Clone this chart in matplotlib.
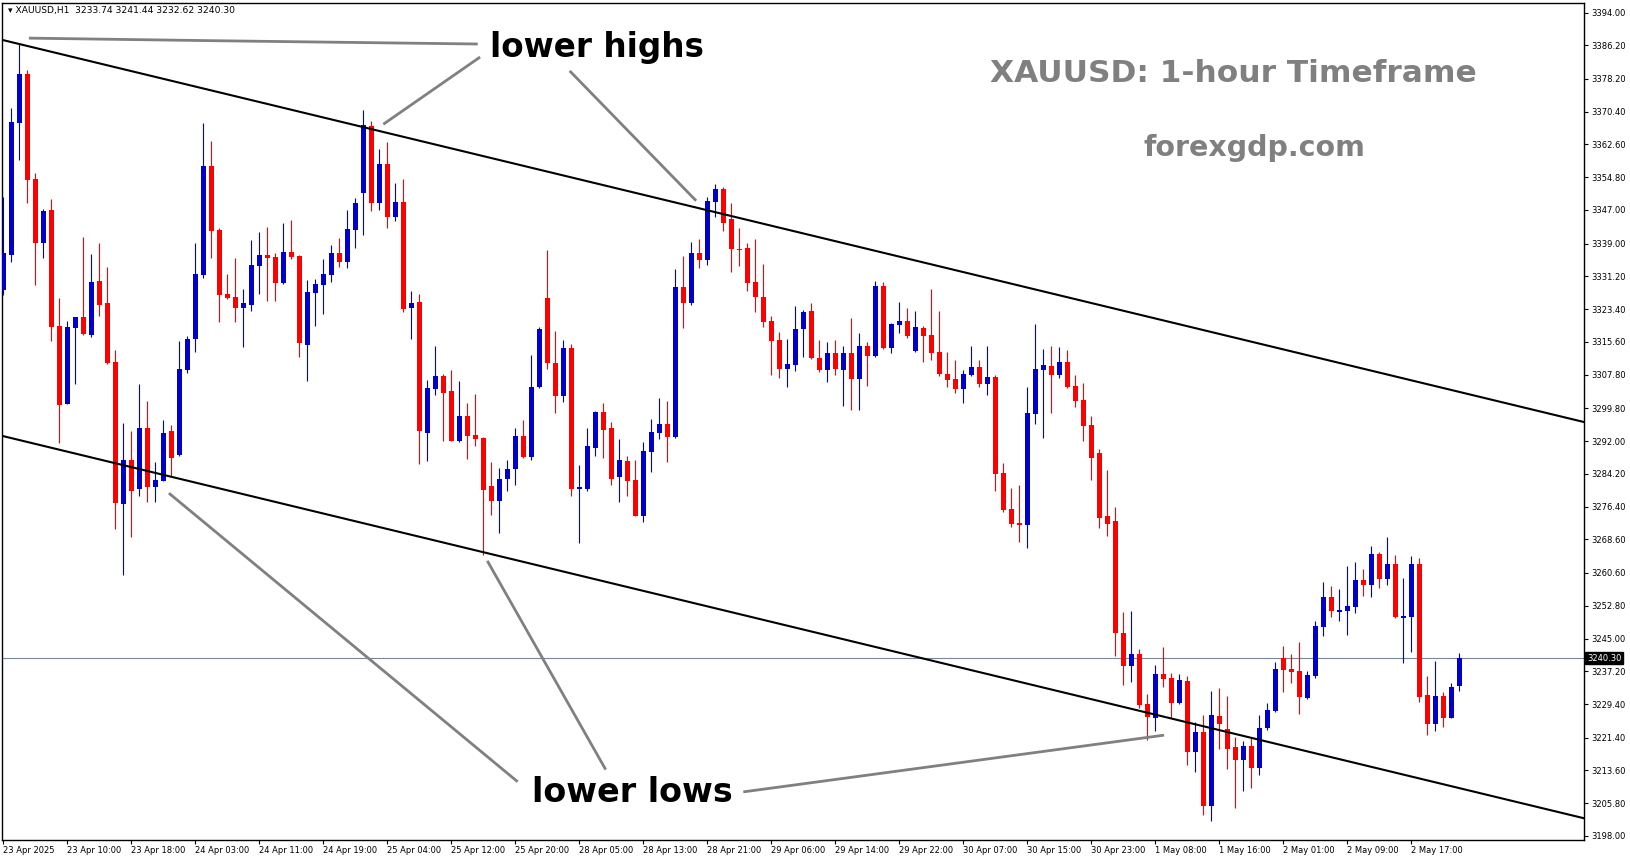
import matplotlib
matplotlib.use("Agg")
import matplotlib.pyplot as plt
import matplotlib.transforms as mtransforms
import numpy as np

# XAUUSD H1, one bar per hour: 23 Apr 02:00 ... 2 May 23:00 (23 bars a day)
opens = [3328.0, 3336.3, 3367.8, 3379.4, 3354.4, 3339.1, 3347.0, 3319.5, 3300.8, 3319.0,
         3321.6, 3317.3, 3330.1, 3324.8, 3310.7, 3276.9, 3287.5, 3280.7, 3295.2, 3281.1,
         3282.6, 3294.4, 3288.8, 3308.9, 3316.3, 3331.5, 3357.5, 3342.2, 3326.9, 3326.2,
         3323.7, 3324.4, 3333.7, 3336.3, 3335.9, 3329.7, 3337.0, 3336.0, 3314.9, 3327.3,
         3329.2, 3331.5, 3336.8, 3334.7, 3342.3, 3351.1, 3367.0, 3348.7, 3357.9, 3345.4,
         3348.9, 3323.6, 3325.1, 3294.0, 3304.3, 3307.5, 3303.9, 3291.9, 3297.9, 3293.4,
         3292.7, 3281.3, 3277.8, 3283.0, 3285.3, 3293.2, 3288.3, 3304.8, 3326.0, 3310.5,
         3302.7, 3314.1, 3280.7, 3280.7, 3290.4, 3299.0, 3295.2, 3283.5, 3287.2, 3282.7,
         3274.2, 3289.5, 3294.0, 3296.1, 3293.0, 3328.7, 3324.9, 3336.7, 3335.2, 3349.0,
         3352.1, 3344.8, 3337.7, 3338.0, 3329.9, 3326.4, 3320.6, 3316.1, 3309.2, 3310.2,
         3318.7, 3323.0, 3311.8, 3308.9, 3313.0, 3308.9, 3313.0, 3306.8, 3314.6, 3312.2,
         3328.9, 3314.2, 3319.6, 3320.6, 3313.5, 3318.9, 3317.2, 3313.2, 3308.0, 3306.8,
         3304.4, 3307.7, 3309.6, 3305.6, 3307.2, 3284.4, 3275.8, 3272.5, 3272.1, 3298.5,
         3309.0, 3309.9, 3307.8, 3310.8, 3305.1, 3301.8, 3295.8, 3289.2, 3274.2, 3273.0,
         3246.3, 3238.5, 3241.3, 3229.4, 3226.2, 3236.6, 3235.6, 3229.7, 3234.9, 3218.1,
         3222.8, 3205.2, 3226.6, 3223.5, 3219.2, 3216.1, 3219.4, 3214.3, 3223.6, 3227.8,
         3240.4, 3237.8, 3237.3, 3230.9, 3236.1, 3247.7, 3254.9, 3251.4, 3251.6, 3252.5,
         3259.0, 3257.7, 3265.1, 3259.2, 3262.7, 3249.9, 3250.1, 3262.7, 3231.6, 3224.7,
         3231.3, 3226.2, 3233.74]
highs = [3350.2, 3371.3, 3386.7, 3380.2, 3355.7, 3347.2, 3349.6, 3326.1, 3320.6, 3321.6,
         3340.6, 3336.5, 3339.2, 3333.5, 3313.7, 3296.4, 3294.5, 3305.6, 3301.5, 3286.9,
         3297.0, 3295.8, 3315.8, 3317.0, 3339.2, 3367.6, 3363.4, 3342.8, 3331.8, 3335.5,
         3328.1, 3339.9, 3341.7, 3343.0, 3336.8, 3343.8, 3344.6, 3336.3, 3330.3, 3330.5,
         3335.3, 3338.7, 3340.3, 3347.0, 3349.8, 3370.8, 3368.2, 3361.5, 3363.2, 3353.5,
         3354.4, 3327.7, 3327.1, 3306.5, 3314.6, 3307.9, 3308.9, 3306.3, 3301.1, 3303.2,
         3293.0, 3287.0, 3285.6, 3287.5, 3295.0, 3297.0, 3312.5, 3319.2, 3337.5, 3318.2,
         3316.0, 3315.1, 3286.3, 3295.2, 3299.1, 3301.0, 3296.6, 3292.5, 3288.4, 3287.5,
         3291.7, 3297.2, 3302.2, 3301.5, 3332.9, 3336.0, 3339.3, 3340.0, 3350.0, 3353.1,
         3352.4, 3348.6, 3342.6, 3339.1, 3340.0, 3334.1, 3321.8, 3318.0, 3316.4, 3324.1,
         3323.2, 3324.9, 3316.1, 3315.6, 3316.1, 3314.6, 3321.3, 3317.7, 3315.6, 3330.0,
         3329.8, 3320.1, 3325.1, 3323.7, 3323.0, 3319.4, 3328.2, 3323.0, 3313.2, 3311.3,
         3308.9, 3314.6, 3311.3, 3314.6, 3307.7, 3286.8, 3280.9, 3281.5, 3304.9, 3319.9,
         3313.9, 3314.6, 3314.4, 3313.7, 3307.7, 3305.8, 3298.0, 3290.1, 3285.1, 3276.3,
         3251.3, 3251.5, 3242.5, 3231.8, 3238.7, 3243.0, 3236.8, 3236.6, 3236.1, 3225.1,
         3226.8, 3232.5, 3233.2, 3231.3, 3221.6, 3220.6, 3221.3, 3226.8, 3229.7, 3239.4,
         3243.2, 3241.3, 3244.2, 3237.3, 3249.2, 3258.5, 3257.5, 3256.8, 3262.3, 3263.2,
         3261.5, 3267.0, 3265.6, 3269.2, 3264.9, 3259.4, 3264.6, 3264.2, 3236.1, 3239.6,
         3232.3, 3234.4, 3241.44]
lows = [3326.8, 3334.7, 3358.9, 3348.6, 3329.1, 3335.6, 3315.9, 3291.6, 3300.8, 3305.6,
        3317.3, 3316.7, 3321.8, 3310.3, 3271.1, 3260.1, 3269.1, 3279.0, 3277.6, 3277.6,
        3282.4, 3283.7, 3288.5, 3308.1, 3313.3, 3330.7, 3335.6, 3320.4, 3325.8, 3320.4,
        3314.5, 3323.0, 3327.0, 3325.3, 3325.3, 3329.4, 3335.3, 3312.1, 3306.4, 3319.5,
        3322.2, 3329.9, 3333.5, 3333.3, 3338.0, 3341.0, 3346.8, 3347.0, 3342.8, 3344.4,
        3322.6, 3316.4, 3286.5, 3287.3, 3303.0, 3291.9, 3291.9, 3291.7, 3287.8, 3290.9,
        3264.9, 3274.4, 3270.0, 3280.2, 3281.6, 3288.0, 3287.6, 3304.6, 3309.1, 3298.6,
        3301.4, 3279.0, 3267.8, 3280.1, 3288.5, 3288.0, 3281.5, 3277.6, 3279.0, 3274.2,
        3272.8, 3284.7, 3292.6, 3286.9, 3292.8, 3319.0, 3324.5, 3333.1, 3334.0, 3345.4,
        3342.0, 3332.3, 3333.7, 3327.6, 3322.8, 3319.2, 3307.7, 3306.9, 3304.9, 3308.7,
        3312.1, 3311.5, 3308.4, 3306.1, 3307.7, 3300.3, 3299.4, 3299.4, 3305.1, 3312.0,
        3313.9, 3313.0, 3317.7, 3316.5, 3313.3, 3310.8, 3311.3, 3307.5, 3304.9, 3303.4,
        3301.1, 3307.5, 3304.9, 3303.0, 3280.2, 3275.0, 3271.6, 3268.0, 3266.6, 3296.1,
        3292.8, 3298.7, 3307.1, 3304.6, 3300.2, 3291.9, 3282.8, 3271.2, 3269.5, 3240.9,
        3234.0, 3234.7, 3228.5, 3220.9, 3223.1, 3233.5, 3226.2, 3229.5, 3215.0, 3213.3,
        3203.0, 3201.6, 3218.6, 3214.0, 3204.7, 3208.6, 3209.5, 3212.6, 3223.3, 3227.6,
        3232.3, 3234.5, 3227.1, 3230.7, 3235.6, 3245.6, 3250.1, 3249.2, 3245.8, 3251.1,
        3255.1, 3254.9, 3257.0, 3257.7, 3249.9, 3239.2, 3241.8, 3229.9, 3222.1, 3223.1,
        3224.0, 3226.0, 3232.62]
closes = [3336.7, 3368.0, 3379.4, 3354.1, 3339.1, 3346.8, 3319.2, 3300.6, 3319.2, 3321.6,
          3317.5, 3329.9, 3324.4, 3310.6, 3277.2, 3287.5, 3280.2, 3295.2, 3281.1, 3282.7,
          3293.8, 3287.9, 3309.1, 3316.3, 3331.8, 3357.5, 3342.1, 3326.8, 3326.1, 3323.7,
          3324.8, 3333.9, 3336.3, 3335.6, 3329.7, 3337.0, 3335.9, 3315.4, 3327.5, 3329.4,
          3331.8, 3336.8, 3334.7, 3342.5, 3348.6, 3367.2, 3348.7, 3357.9, 3345.4, 3348.8,
          3323.5, 3324.8, 3294.5, 3304.6, 3307.5, 3303.5, 3291.9, 3297.9, 3293.3, 3292.6,
          3280.4, 3277.8, 3283.0, 3285.3, 3293.2, 3288.3, 3304.9, 3318.7, 3310.5, 3302.7,
          3314.1, 3280.7, 3281.0, 3290.8, 3299.0, 3294.6, 3283.0, 3287.5, 3282.6, 3274.2,
          3289.6, 3294.1, 3296.1, 3293.0, 3328.7, 3324.9, 3336.7, 3335.2, 3349.1, 3352.1,
          3344.0, 3337.7, 3337.5, 3329.7, 3326.4, 3320.4, 3315.9, 3309.2, 3310.3, 3318.7,
          3322.7, 3311.8, 3308.9, 3313.0, 3309.2, 3313.0, 3306.8, 3314.6, 3312.2, 3328.9,
          3314.2, 3319.9, 3320.6, 3317.0, 3319.1, 3317.0, 3313.0, 3308.0, 3306.5, 3304.4,
          3308.0, 3309.6, 3305.6, 3307.2, 3284.2, 3275.7, 3272.3, 3272.1, 3298.7, 3309.2,
          3310.1, 3307.8, 3310.8, 3304.9, 3301.6, 3295.7, 3288.0, 3273.8, 3272.3, 3246.2,
          3238.5, 3241.3, 3229.2, 3226.4, 3236.6, 3235.4, 3229.7, 3235.1, 3218.1, 3222.8,
          3205.2, 3226.8, 3224.7, 3218.8, 3216.1, 3219.4, 3214.3, 3223.7, 3228.0, 3237.8,
          3237.5, 3237.0, 3231.1, 3236.3, 3248.0, 3254.9, 3251.6, 3251.9, 3252.7, 3259.0,
          3257.7, 3265.1, 3259.2, 3262.7, 3250.1, 3250.3, 3262.7, 3231.1, 3224.7, 3231.3,
          3226.2, 3233.5, 3240.30]

# time axis labels, one every 8 bars
date_labels = ["23 Apr 2025", "23 Apr 10:00", "23 Apr 18:00", "24 Apr 03:00", "24 Apr 11:00",
               "24 Apr 19:00", "25 Apr 04:00", "25 Apr 12:00", "25 Apr 20:00", "28 Apr 05:00",
               "28 Apr 13:00", "28 Apr 21:00", "29 Apr 06:00", "29 Apr 14:00", "29 Apr 22:00",
               "30 Apr 07:00", "30 Apr 15:00", "30 Apr 23:00", "1 May 08:00", "1 May 16:00",
               "2 May 01:00", "2 May 09:00", "2 May 17:00"]
date_step = 8

price_ticks = [3394.00, 3386.20, 3378.20, 3370.40, 3362.60, 3354.80, 3347.00, 3339.00,
               3331.20, 3323.40, 3315.60, 3307.80, 3299.80, 3292.00, 3284.20, 3276.40,
               3268.60, 3260.60, 3252.80, 3245.00, 3237.20, 3229.40, 3221.40, 3213.60,
               3205.80, 3198.00]
bid = 3240.30

# channel lines (bar index, price)
upper_channel = [(-0.075, 3387.45), (150.84, 3318.03)]
lower_channel = [(-0.075, 3293.20), (183.34, 3208.78)]

# grey pointer lines (bar index, price)
pointer_lines = [
    [(3.2, 3387.9), (25.8, 3387.3), (59.3, 3386.5)],
    [(59.6, 3383.4), (47.5, 3367.4)],
    [(70.8, 3380.1), (86.6, 3349.2)],
    [(64.3, 3210.9), (20.7, 3279.6)],
    [(75.3, 3213.8), (60.5, 3263.5)],
    [(92.5, 3208.5), (145.1, 3222.0)],
]

W, H = 1631, 861
fig = plt.figure(figsize=(W / 100, H / 100), dpi=100)
fig.patch.set_facecolor("white")
ax = fig.add_axes([2 / W, (H - 840) / H, (1584 - 2) / W, 837 / H])

o = np.array(opens)
hi = np.array(highs)
lo = np.array(lows)
c = np.array(closes)
x = np.arange(len(o))
up = c >= o
cols = np.where(up, "#0000CD", "#FF0000")

ax.vlines(x, lo, hi, colors=cols, lw=0.8, zorder=3)
ax.bar(x, np.maximum(np.abs(c - o), 0.3), bottom=np.minimum(o, c), width=0.62,
       color=cols, linewidth=0, zorder=4)

ax.axline(upper_channel[0], upper_channel[1], color="black", lw=1.5, zorder=5)
ax.axline(lower_channel[0], lower_channel[1], color="black", lw=1.5, zorder=5)
ax.axhline(bid, color="#778899", lw=0.8, zorder=2)

for seg in pointer_lines:
    xs, ys = zip(*seg)
    ax.plot(xs, ys, color="#808080", lw=2.0, solid_capstyle="butt", zorder=6)

ax.set_xlim((2 - 3.3) / 8, (1584 - 3.3) / 8)
ax.set_ylim(3198 - 4 / 4.2015, 3394 + 9.5 / 4.2015)

ax.set_xticks(np.arange(len(date_labels)) * date_step)
ax.set_xticklabels(date_labels)
plt.setp(ax.get_xticklabels(), ha="left")
ax.set_yticks(price_ticks)
ax.set_yticklabels([f"{v:.2f}" for v in price_ticks])
ax.yaxis.tick_right()
ax.tick_params(axis="x", direction="out", length=3, width=0.8, pad=1.5, labelsize=6.0)
ax.tick_params(axis="y", direction="out", length=3, width=0.8, pad=2, labelsize=6.0)
for s in ["left", "right", "bottom", "top"]:
    ax.spines[s].set_linewidth(1.0)

trans = mtransforms.blended_transform_factory(ax.transAxes, ax.transData)
ax.annotate(f"{bid:.2f}", xy=(1, bid), xycoords=trans, xytext=(3, 0), textcoords="offset pixels",
            ha="left", va="center", fontsize=6.0, color="white",
            bbox=dict(boxstyle="square,pad=0.2", fc="black", ec="black"))

fig.text(8 / W, 1 - 11 / H, "\u25be XAUUSD,H1  3233.74 3241.44 3232.62 3240.30",
         fontsize=6.6, va="center", ha="left")

fig.text(490 / W, 1 - 47 / H, "lower highs", fontsize=23.5, fontweight="bold",
         va="center", ha="left", color="black")
fig.text(532 / W, 1 - 792 / H, "lower lows", fontsize=24, fontweight="bold",
         va="center", ha="left", color="black")
fig.text(1233 / W, 1 - 73 / H, "XAUUSD: 1-hour Timeframe", fontsize=22.5, fontweight="bold",
         va="center", ha="center", color="#808080")
fig.text(1254 / W, 1 - 148 / H, "forexgdp.com", fontsize=20.5, fontweight="bold",
         va="center", ha="center", color="#808080")

fig.savefig("out.png", dpi=100)
